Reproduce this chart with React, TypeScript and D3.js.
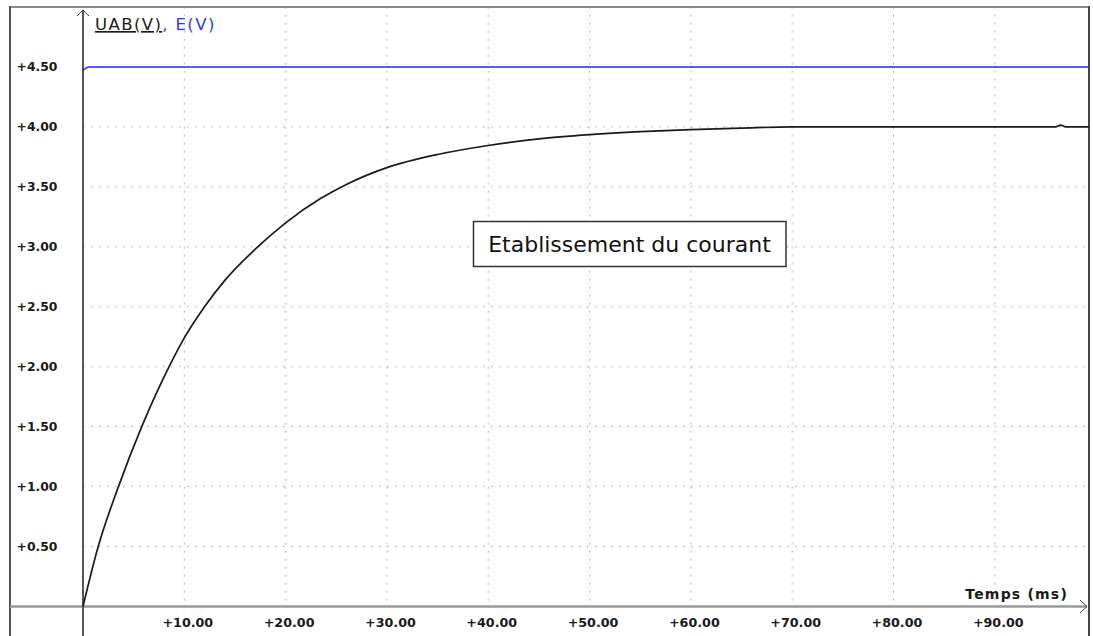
import React from "react";
import * as d3 from "d3";

const uabTime = [0, 1.5, 3.5, 5.8, 8.5, 10, 12, 14, 17, 20, 23.4, 26, 30, 35, 40, 45, 50, 55, 60, 65, 70, 80, 90, 96, 96.5, 97, 99.3];
const uabValues = [0, 0.5, 1.0, 1.5, 2.0, 2.24, 2.5, 2.72, 2.98, 3.2, 3.4, 3.52, 3.66, 3.77, 3.845, 3.9, 3.935, 3.96, 3.978, 3.99, 4.0, 4.0, 4.0, 4.0, 4.015, 4.0, 4.0];
const eTime = [0, 0.3, 0.6, 99.3];
const eValues = [4.47, 4.49, 4.5, 4.5];
const timeTicks = [10, 20, 30, 40, 50, 60, 70, 80, 90];
const voltTicks = [0.5, 1.0, 1.5, 2.0, 2.5, 3.0, 3.5, 4.0, 4.5];

const W = 1093;
const H = 636;
const frameLeft = 10;
const frameTop = 7;
const frameRight = 1089;
const labelFont = "'DejaVu Sans', Verdana, sans-serif";

function App() {
  const x = d3.scaleLinear().domain([0, 99.3]).range([83, 1089]);
  const y = d3.scaleLinear().domain([0, 5]).range([606.5, 7]);
  const fmt = (v: number) => "+" + d3.format(".2f")(v);

  const line = d3
    .line<[number, number]>()
    .x((d) => x(d[0]))
    .y((d) => y(d[1]))
    .curve(d3.curveMonotoneX);

  const uabPath = line(uabTime.map((t, i) => [t, uabValues[i]] as [number, number])) || "";
  const ePath = line(eTime.map((t, i) => [t, eValues[i]] as [number, number])) || "";

  const x0 = x(0);
  const y0 = y(0);

  return (
    <div style={{ position: "absolute", left: 0, top: 0 }}>
      <svg width={W} height={H} style={{ display: "block", background: "#fff" }}>
        {/* grid */}
        {timeTicks.map((t) => (
          <line
            key={"gx" + t}
            x1={x(t)}
            x2={x(t)}
            y1={frameTop}
            y2={y0}
            stroke="#a6a6a0"
            strokeDasharray="1.5 6.5"
          />
        ))}
        {voltTicks.map((v) => (
          <line
            key={"gy" + v}
            x1={x0}
            x2={frameRight}
            y1={y(v)}
            y2={y(v)}
            stroke="#a6a6a0"
            strokeDasharray="1.5 6.5"
          />
        ))}

        {/* frame */}
        <line x1={frameLeft} x2={frameRight} y1={frameTop} y2={frameTop} stroke="#8a8a8a" strokeWidth={2} />
        <line x1={frameLeft} x2={frameLeft} y1={frameTop - 1} y2={H} stroke="#555" strokeWidth={2} />
        <line x1={frameRight} x2={frameRight} y1={frameTop - 1} y2={H} stroke="#444" strokeWidth={2} />

        {/* axes */}
        <line x1={frameLeft} x2={1087} y1={y0} y2={y0} stroke="#9a9a9a" strokeWidth={2.5} />
        <path d={`M1080,600 L1087,${y0} L1080,613`} fill="none" stroke="#444" strokeWidth={1} />
        <line x1={x0} x2={x0} y1={10} y2={H} stroke="#555" strokeWidth={2} />
        <path d={`M77,16 L${x0},10 L89,16`} fill="none" stroke="#444" strokeWidth={1} />

        {/* curves */}
        <path d={ePath} fill="none" stroke="#1f2ff0" strokeWidth={1.6} />
        <path d={uabPath} fill="none" stroke="#1a1a1a" strokeWidth={1.7} />

        {/* tick labels */}
        {voltTicks.map((v) => (
          <text
            key={"ty" + v}
            x={16.5}
            y={y(v)}
            dy="0.36em"
            style={{ fontFamily: labelFont, fontWeight: "bold", fontSize: "12.4px", fill: "#1a1a1a" }}
          >
            {fmt(v)}
          </text>
        ))}
        {timeTicks.map((t) => (
          <text
            key={"tx" + t}
            x={x(t) + 3.5}
            y={627}
            textAnchor="middle"
            style={{ fontFamily: labelFont, fontWeight: "bold", fontSize: "12.7px", fill: "#1a1a1a" }}
          >
            {fmt(t)}
          </text>
        ))}

        {/* axis titles */}
        <text
          x={1068}
          y={599}
          textAnchor="end"
          style={{ fontFamily: labelFont, fontWeight: "bold", fontSize: "14px", letterSpacing: "1.2px", fill: "#1a1a1a" }}
        >
          Temps (ms)
        </text>
        <text x={95} y={30} style={{ fontFamily: labelFont, fontSize: "16.5px", letterSpacing: "1.4px" }}>
          <tspan fill="#1a1a1a" style={{ textDecoration: "underline" }}>
            UAB(V)
          </tspan>
          <tspan fill="#2a3cf0">, E(V)</tspan>
        </text>

        {/* annotation */}
        <rect x={473.5} y={221.5} width={312.5} height={45} fill="#fff" stroke="#333" strokeWidth={1.5} />
        <text
          x={629.5}
          y={252}
          textAnchor="middle"
          style={{ fontFamily: labelFont, fontSize: "22px", fill: "#111" }}
        >
          Etablissement du courant
        </text>
      </svg>
    </div>
  );
}

export default App;
